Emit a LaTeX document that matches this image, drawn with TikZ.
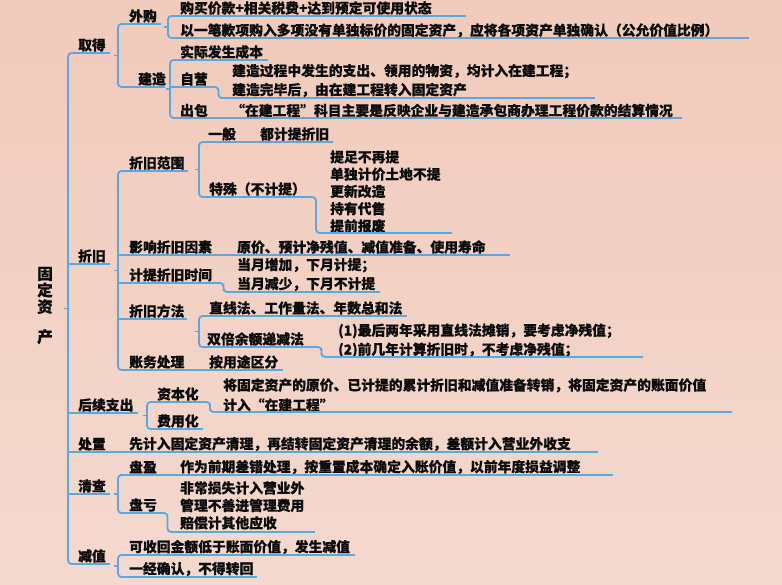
\documentclass[tikz,border=0pt]{standalone}
\usepackage{fontspec}
\newfontfamily\cjk{Noto Sans CJK SC}[BoldFeatures={FakeBold=0.5}]
\usetikzlibrary{calc}
\definecolor{bgtop}{RGB}{241,203,188}
\definecolor{bgbot}{RGB}{244,217,207}
\definecolor{lineblue}{RGB}{88,168,225}
\definecolor{ink}{RGB}{12,12,12}
\newcommand\mmul[5][ul]{%
  \coordinate (#2-l) at (#3,#5);
  \coordinate (#2-r) at (#4,#5);
  \draw[#1] (#2-l) -- (#2-r);}
\newcommand\mmbrace[3]{%
  \coordinate (bx) at (#1,0);
  \coordinate (bm) at ($(#2-l)!0.5!(#3-l)$);
  \draw[br] (#2-l) -| (bm -| bx) |- (#3-l);
  \draw[br] (bm -| bx) -- ++(-4,0);}
\newcommand\mmmid[1]{\draw[br] (bx |- #1-l) -- (#1-l);}
\newcommand\mmcurl[2]{\draw[br] (#1-r) -| ($(#1-r)!0.5!(#2-l)$) |- (#2-l);}
\begin{document}
\begin{tikzpicture}[x=1pt,y=-1pt,
  txt/.style={anchor=west, inner sep=0pt, text=ink, font=\cjk\bfseries\fontsize{13.8}{17}\selectfont},
  ml/.style={txt, align=left, font=\cjk\bfseries\fontsize{13.8}{#1}\selectfont},
  ul/.style={draw=lineblue, line width=2.3pt},
  ulthin/.style={draw=lineblue, line width=1.5pt},
  br/.style={draw=lineblue, line width=1.8pt, rounded corners=3.5pt},
]
\shade[top color=bgtop,bottom color=bgbot] (0,0) rectangle (782,585);
\useasboundingbox (0,0) rectangle (782,585);

% root
\node[inner sep=0pt, text=ink, align=center, font=\cjk\bfseries\fontsize{15.5}{16.5}\selectfont] (root) at (45,305.5) {固\\定\\资\\[13.5pt]产};

% level 1
\node[txt] (qude) at (78,45) {取得}; \mmul{qude}{71}{110}{53}
\node[txt] (zhejiu) at (78,256) {折旧}; \mmul{zhejiu}{71}{110}{264}
\node[txt] (houxu) at (78,405) {后续支出}; \mmul{houxu}{71}{138}{413}
\node[txt] (chuzhi) at (78,444) {处置}; \mmul{chuzhi}{71}{118}{452}
\node[txt] (qingcha) at (78,486) {清查}; \mmul{qingcha}{71}{110}{494}
\node[txt] (jianzhi) at (78,556) {减值}; \mmul{jianzhi}{71}{110}{564}
\mmbrace{68}{qude}{jianzhi}
\mmmid{zhejiu}\mmmid{houxu}\mmmid{chuzhi}\mmmid{qingcha}

% qude subtree
\node[txt] (waigou) at (129,16) {外购}; \mmul{waigou}{123}{161}{24}
\node[txt] (jianzao) at (138,79) {建造}; \mmul{jianzao}{132}{165}{87}
\mmbrace{118}{waigou}{jianzao}
\node[txt] (goumai) at (180,8) {购买价款+相关税费+达到预定可使用状态}; \mmul{goumai}{173}{466}{16}
\node[txt] (yibi) at (180,30.5) {以一笔款项购入多项没有单独标价的固定资产，应将各项资产单独确认（公允价值比例）}; \mmul{yibi}{173}{749}{38}
\mmbrace{168}{goumai}{yibi}
\node[txt] (shiji) at (180,52) {实际发生成本}; \mmul{shiji}{173}{268}{60}
\node[txt] (ziying) at (180,79) {自营}; \mmul{ziying}{171}{212}{87}
\node[txt] (chubao) at (180,110.5) {出包}; \mmul{chubao}{173}{215}{118}
\mmbrace{170}{shiji}{chubao}
\mmmid{ziying}
\node[ml=19] (ziyingc) at (232,80.5) {建造过程中发生的支出、领用的物资，均计入在建工程；\\建造完毕后，由在建工程转入固定资产}; \mmul{ziyingc}{225}{595}{98}
\mmcurl{ziying}{ziyingc}
\node[txt] (chubaoc) at (231,110.5) {“在建工程”科目主要是反映企业与建造承包商办理工程价款的结算情况}; \mmul{chubaoc}{215}{682}{118}

% zhejiu subtree
\node[txt] (fanwei) at (129,163) {折旧范围}; \mmul{fanwei}{123}{188}{171}
\node[txt] (yingxiang) at (129,247) {影响折旧因素}; \mmul[ulthin]{yingxiang}{120}{225}{255}
\node[txt] (jiti) at (129,275) {计提折旧时间}; \mmul{jiti}{123}{217}{283}
\node[txt] (fangfa) at (129,311) {折旧方法}; \mmul{fangfa}{123}{187}{319}
\node[txt] (zhangwu) at (129,362) {账务处理}; \mmul{zhangwu}{122}{200}{370}
\mmbrace{118}{fanwei}{zhangwu}
\mmmid{yingxiang}\mmmid{jiti}\mmmid{fangfa}

\node[txt] (yiban) at (208,134) {一般}; \mmul{yiban}{202}{250}{142}
\node[txt] (yibanc) at (260,134) {都计提折旧}; \mmul{yibanc}{250}{333}{142}
\node[txt] (teshu) at (209,189) {特殊（不计提）}; \mmul{teshu}{202}{310}{197}
\mmbrace{199}{yiban}{teshu}
\node[ml=17.25] (teshuc) at (330,191.5) {提足不再提\\单独计价土地不提\\更新改造\\持有代售\\提前报废}; \mmul{teshuc}{322}{452}{233}
\mmcurl{teshu}{teshuc}

\node[txt] (yingxiangc) at (237,247) {原价、预计净残值、减值准备、使用寿命}; \mmul[ulthin]{yingxiangc}{225}{510}{255}
\node[ml=19] (jitic) at (237,274.5) {当月增加，下月计提；\\当月减少，下月不计提}; \mmul{jitic}{230}{380}{292}
\mmcurl{jiti}{jitic}

\node[txt] (zhixian) at (209,308) {直线法、工作量法、年数总和法}; \mmul{zhixian}{202}{407}{316}
\node[txt] (shuangbei) at (207,339) {双倍余额递减法}; \mmul{shuangbei}{202}{310}{347}
\mmbrace{199}{zhixian}{shuangbei}
\node[ml=19] (shuangbeic) at (338,340.5) {(1)最后两年采用直线法摊销，要考虑净残值；\\(2)前几年计算折旧时，不考虑净残值；}; \mmul{shuangbeic}{333}{643}{357}
\mmcurl{shuangbei}{shuangbeic}
\node[txt] (zhangwuc) at (209,362) {按用途区分}; \mmul{zhangwuc}{200}{283}{370}

% houxu subtree
\node[txt] (ziben) at (157,394) {资本化}; \mmul{ziben}{152}{203}{402}
\node[txt] (feiyong) at (157,421) {费用化}; \mmul{feiyong}{152}{203}{429}
\mmbrace{147}{ziben}{feiyong}
\node[ml=20] (zibenc) at (223,395) {将固定资产的原价、已计提的累计折旧和减值准备转销，将固定资产的账面价值\\计入“在建工程”}; \mmul{zibenc}{217}{732}{412}
\mmcurl{ziben}{zibenc}

% chuzhi
\node[txt] (chuzhic) at (129,444) {先计入固定资产清理，再结转固定资产清理的余额，差额计入营业外收支}; \mmul{chuzhic}{118}{598}{452}

% qingcha subtree
\node[txt] (panying) at (129,467) {盘盈}; \mmul[ulthin]{panying}{120}{170}{475}
\node[txt] (panyingc) at (180,467) {作为前期差错处理，按重置成本确定入账价值，以前年度损益调整}; \mmul[ulthin]{panyingc}{170}{613}{475}
\node[txt] (pankui) at (129,505) {盘亏}; \mmul{pankui}{123}{162}{513}
\mmbrace{118}{panying}{pankui}
\node[ml=17.5] (pankuic) at (180,505.5) {非常损失计入营业外\\管理不善进管理费用\\赔偿计其他应收}; \mmul{pankuic}{173}{315}{532}
\mmcurl{pankui}{pankuic}

% jianzhi subtree
\node[txt] (kehuishou) at (129,547) {可收回金额低于账面价值，发生减值}; \mmul{kehuishou}{123}{355}{555}
\node[txt] (yijing) at (129,569) {一经确认，不得转回}; \mmul{yijing}{123}{257}{577}
\mmbrace{118}{kehuishou}{yijing}
\end{tikzpicture}
\end{document}
